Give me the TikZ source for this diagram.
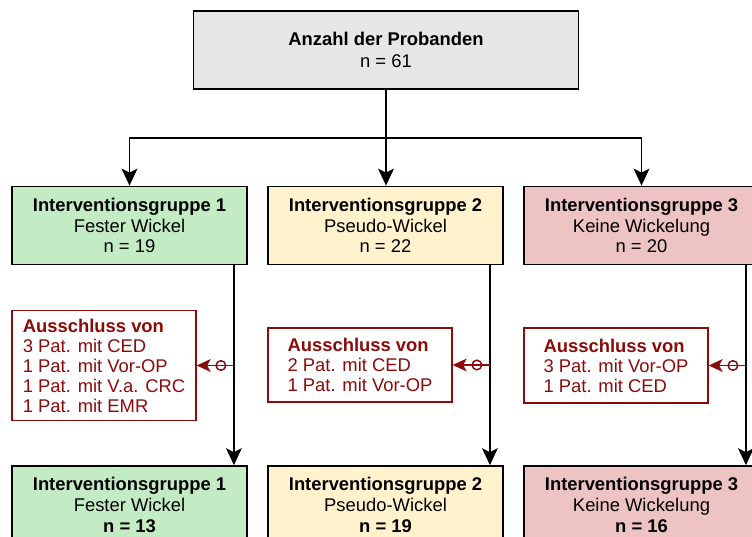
\documentclass[tikz,border=0pt]{standalone}
\usepackage{fontspec}
\setmainfont{Liberation Sans}
\definecolor{boxgray}{HTML}{E6E6E6}
\definecolor{boxgreen}{HTML}{C4ECC4}
\definecolor{boxyellow}{HTML}{FFF2CC}
\definecolor{boxpink}{HTML}{EEC3C3}
\definecolor{exred}{HTML}{8B0A0A}
\tikzset{
  box/.style={draw=black, line width=1.8pt, minimum width=235pt, minimum height=78pt,
    inner sep=0pt, align=center, font=\fontsize{18.4}{20.8}\selectfont},
  exbox/.style={draw=exred, line width=1.4pt, minimum width=184pt, inner sep=0pt,
    align=left, text=exred, font=\fontsize{18.4}{20}\selectfont},
  conn/.style={draw=black, line width=1.8pt},
  arr/.style={conn, shorten >=8pt},
  exarr/.style={draw=exred, line width=1.5pt, shorten >=8pt},
  tipdown/.pic={\fill[black] (0,0) -- (-8,-17) -- (0,-13) -- (8,-17) -- cycle;},
  tipleft/.pic={\fill[exred] (0,0) -- (14,-6.5) -- (10.5,0) -- (14,6.5) -- cycle;},
}
\begin{document}
\begin{tikzpicture}[x=1pt,y=-1pt]
\useasboundingbox (0,0) rectangle (752,537);
% top
\node[box, fill=boxgray, minimum width=385pt, font=\fontsize{18.4}{22}\selectfont] (top) at (386,50)
  {\textbf{Anzahl der Probanden}\\n = 61};
% groups
\node[box, fill=boxgreen] (g1) at (129.5,225.5) {\textbf{Interventionsgruppe 1}\\Fester Wickel\\n = 19};
\node[box, fill=boxyellow] (g2) at (385.5,225.5) {\textbf{Interventionsgruppe 2}\\Pseudo-Wickel\\n = 22};
\node[box, fill=boxpink] (g3) at (641.5,225.5) {\textbf{Interventionsgruppe 3}\\Keine Wickelung\\n = 20};
% exclusions
\node[exbox, minimum height=110pt] (a1) at (104,365.5)
  {\textbf{Ausschluss von}\\3 Pat. mit CED\\1 Pat. mit Vor-OP\\1 Pat. mit V.a. CRC\\1 Pat. mit EMR};
\node[exbox, minimum height=74pt] (a2) at (360,365)
  {\textbf{Ausschluss von}\\2 Pat. mit CED\\1 Pat. mit Vor-OP};
\node[exbox, minimum height=75pt] (a3) at (616,365.5)
  {\textbf{Ausschluss von}\\3 Pat. mit Vor-OP\\1 Pat. mit CED};
% bottom
\node[box, fill=boxgreen] (b1) at (129.5,505) {\textbf{Interventionsgruppe 1}\\Fester Wickel\\\textbf{n = 13}};
\node[box, fill=boxyellow] (b2) at (385.5,505) {\textbf{Interventionsgruppe 2}\\Pseudo-Wickel\\\textbf{n = 19}};
\node[box, fill=boxpink] (b3) at (641.5,505) {\textbf{Interventionsgruppe 3}\\Keine Wickelung\\\textbf{n = 16}};
% top connectors
\coordinate (j) at (386,138);
\draw[conn] (top.south) -- (j);
\draw[arr] (j) -- (j |- g2.north);
\pic at (j |- g2.north) {tipdown};
\draw[arr] (j) -| (g1.north);
\pic at (g1.north) {tipdown};
\draw[arr] (j) -| (g3.north);
\pic at (g3.north) {tipdown};
% vertical connectors
\foreach \i in {1,2,3}{
  \coordinate (v\i) at ([xshift=-14pt]g\i.south east);
  \draw[arr] (v\i) -- (v\i |- b\i.north);
  \pic at (v\i |- b\i.north) {tipdown};
  \coordinate (s\i) at (v\i |- a\i.east);
  \draw[exarr] (s\i) -- (a\i.east);
  \pic at (a\i.east) {tipleft};
  \draw[draw=exred, line width=1.5pt] ([xshift=-13pt]s\i) circle[radius=4.8pt];
}
\end{tikzpicture}
\end{document}
